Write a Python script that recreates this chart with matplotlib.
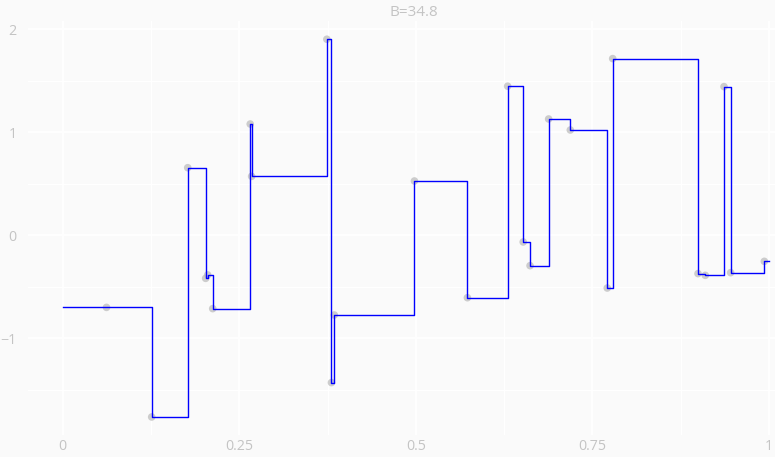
import matplotlib
matplotlib.use("Agg")
import matplotlib.pyplot as plt
from matplotlib.ticker import FixedLocator

# Observations (x in [0, 1]) and the piecewise-constant fit through them
x_obs = [0.062, 0.126, 0.177, 0.2024, 0.2053, 0.2124, 0.2655, 0.2675,
         0.374, 0.3805, 0.3845, 0.498, 0.573, 0.630, 0.652, 0.6617,
         0.688, 0.7187, 0.771, 0.7787, 0.8995, 0.9098, 0.9363, 0.9457, 0.9934]
y_obs = [-0.70, -1.764, 0.656, -0.418, -0.385, -0.712, 1.08, 0.572,
         1.903, -1.43, -0.774, 0.527, -0.606, 1.447, -0.065, -0.295,
         1.129, 1.022, -0.512, 1.715, -0.372, -0.389, 1.443, -0.363, -0.253]

title_text = "B=34.8"
x_ticks = [0, 0.25, 0.5, 0.75, 1]
x_tick_labels = ["0", "0.25", "0.5", "0.75", "1"]
y_ticks = [-1, 0, 1, 2]
y_tick_labels = ["\u22121", "0", "1", "2"]

bg = "#fafafa"
label_color = "#c4c4c4"

fig = plt.figure(figsize=(7.75, 4.57), dpi=100, facecolor=bg)
ax = fig.add_axes([0.0357, 0.0481, 0.9643, 0.9066], facecolor=bg)

ax.set_xlim(-0.0496, 1.0085)
ax.set_ylim(-1.939, 2.083)

# grid
ax.xaxis.set_major_locator(FixedLocator(x_ticks))
ax.yaxis.set_major_locator(FixedLocator(y_ticks))
ax.xaxis.set_minor_locator(FixedLocator([0.125, 0.375, 0.625, 0.875]))
ax.yaxis.set_minor_locator(FixedLocator([-1.5, -0.5, 0.5, 1.5]))
ax.grid(True, which="major", color="white", linewidth=1.3, zorder=0)
ax.grid(True, which="minor", color="white", linewidth=0.9, zorder=0)
ax.set_axisbelow(True)

ax.set_xticklabels(x_tick_labels)
ax.set_yticklabels(y_tick_labels)
ax.tick_params(which="both", length=0)
ax.tick_params(axis="x", pad=3, labelsize=10.3, labelcolor=label_color)
ax.tick_params(axis="y", pad=8, labelsize=10.3, labelcolor=label_color)
for lab in ax.get_xticklabels() + ax.get_yticklabels():
    lab.set_family("Open Sans")

for s in ax.spines.values():
    s.set_visible(False)

# points
ax.scatter(x_obs, y_obs, s=30, color="#bdbdbd", alpha=0.75,
           edgecolors="none", zorder=2)

# step fit extended to the ends of the domain
xs = [0.0] + x_obs + [1.0]
ys = [y_obs[0]] + y_obs + [y_obs[-1]]
ax.step(xs, ys, where="post", color="#0000ff", linewidth=1.0, zorder=3)

fig.text(414 / 775, 1 - 12 / 457, title_text, ha="center", va="center",
         fontsize=11, color=label_color, family="Open Sans")

fig.savefig("out.png", dpi=100, facecolor=bg)
